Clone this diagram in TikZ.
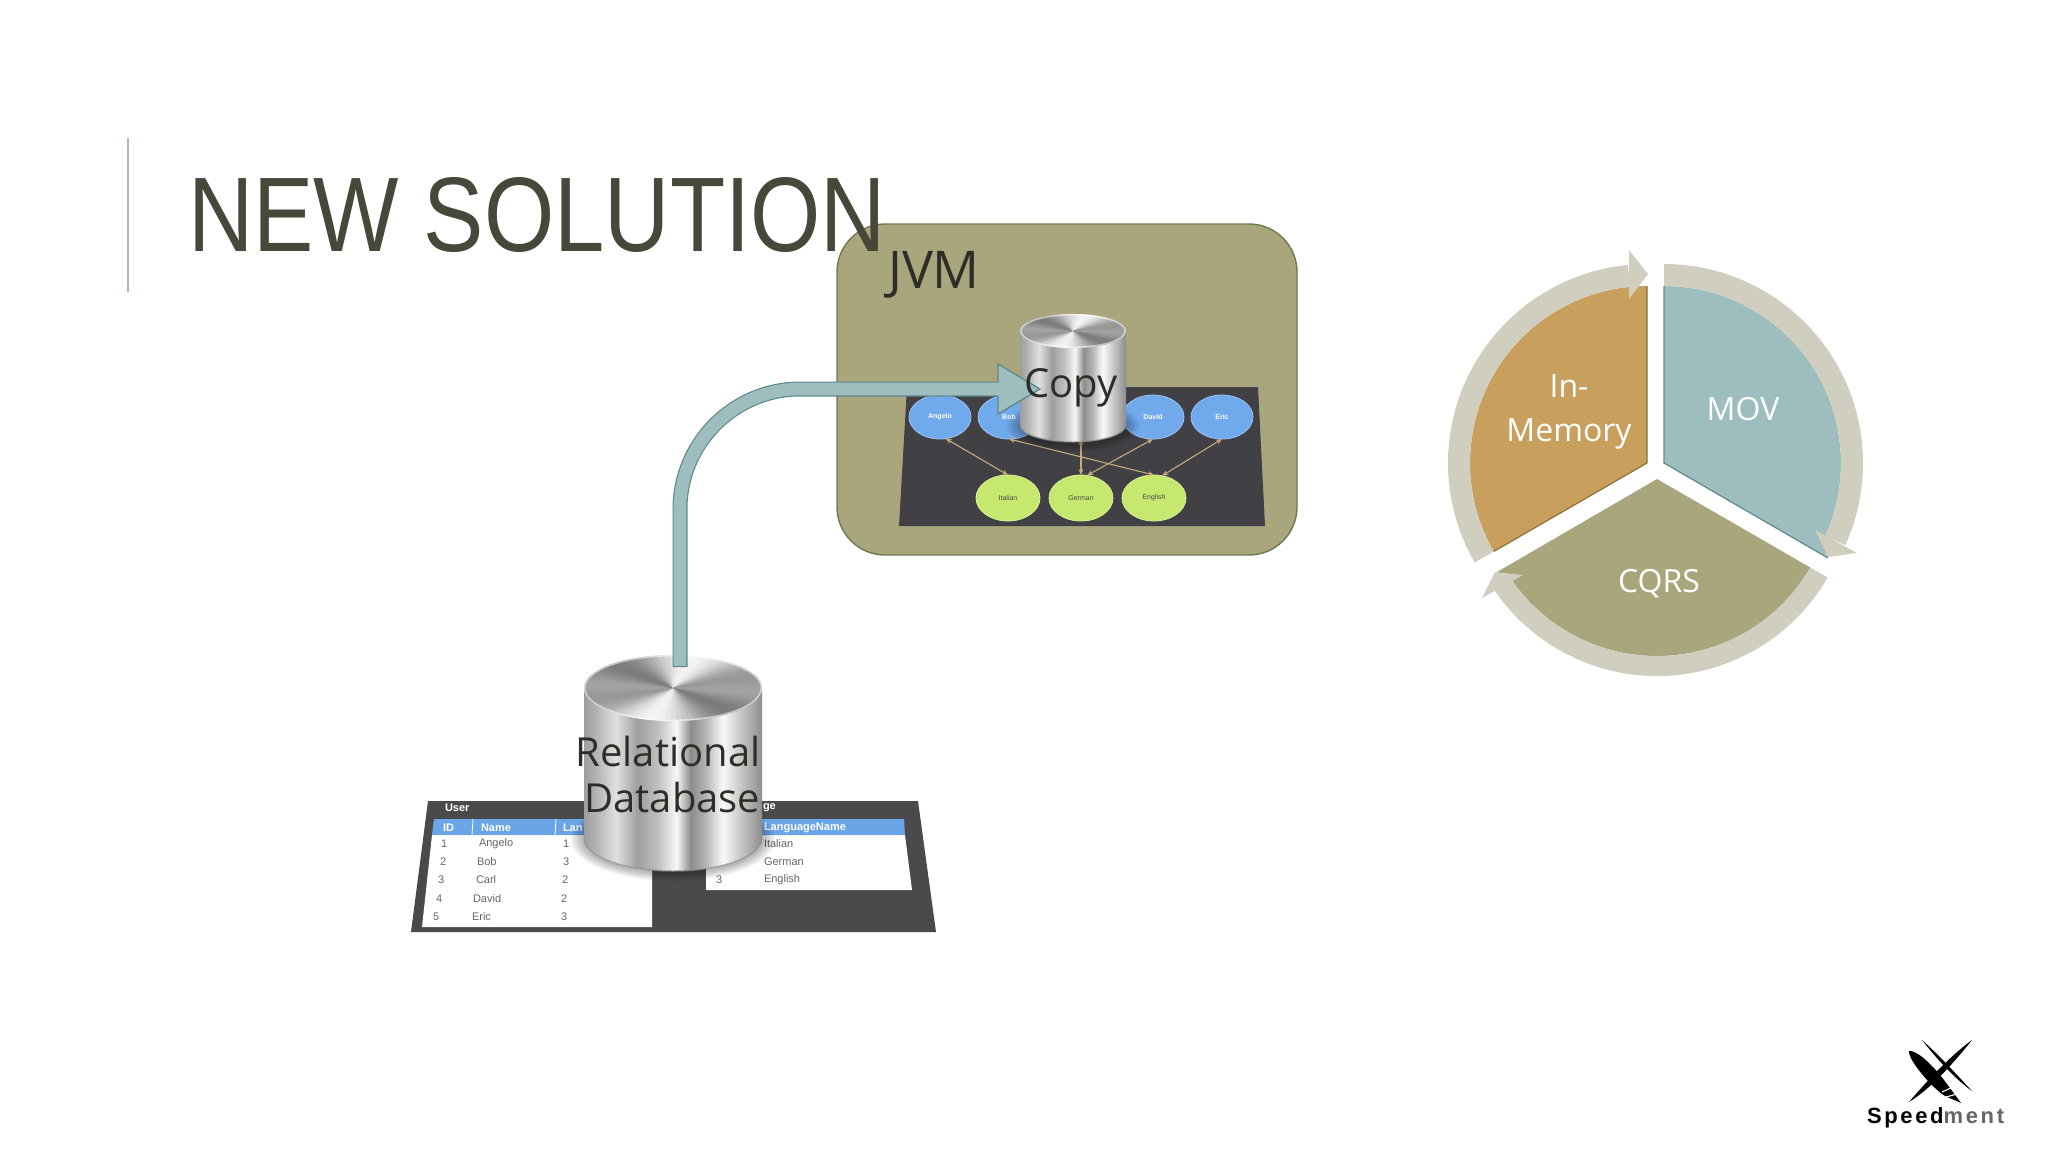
\documentclass[tikz,border=0pt]{standalone}
\usepackage{fontspec}
\usepackage{graphicx}
\usetikzlibrary{shapes.geometric,arrows.meta,calc}
\newfontfamily\labelf{Open Sans}
\newfontfamily\titlef{Liberation Sans}
\newfontfamily\logof[LetterSpace=12]{Liberation Sans}
\definecolor{ctitle}{HTML}{47473A}
\definecolor{cteal}{HTML}{9DBDBF}
\definecolor{ctealdk}{HTML}{5F8A8C}
\definecolor{cbox}{HTML}{A9A57C}
\definecolor{cboxdk}{HTML}{6F7A50}
\definecolor{corange}{HTML}{C89F5C}
\definecolor{corangedk}{HTML}{8C7235}
\definecolor{cring}{HTML}{D0CFBF}
\definecolor{cboard}{HTML}{4A4A4C}
\definecolor{cboard2}{HTML}{414145}
\definecolor{chead}{HTML}{6AA5E8}
\definecolor{cblue}{HTML}{70A9EC}
\definecolor{cgreen}{HTML}{C6E86E}
\definecolor{cedge}{HTML}{C8A97C}
\definecolor{ctext}{HTML}{2E2E28}
\pgfdeclarehorizontalshading{metal}{100bp}{rgb(0bp)=(.62,.62,.62);rgb(25bp)=(.62,.62,.62);rgb(29bp)=(.72,.72,.72);rgb(34bp)=(.88,.88,.88);rgb(40bp)=(.62,.62,.62);rgb(46bp)=(.76,.76,.76);rgb(51bp)=(.97,.97,.97);rgb(55bp)=(.55,.55,.55);rgb(59bp)=(.70,.70,.70);rgb(64bp)=(.98,.98,.98);rgb(69bp)=(.78,.78,.78);rgb(75bp)=(.55,.55,.55);rgb(100bp)=(.55,.55,.55)}
\newcommand{\metalcyl}[5]{% cx, top cy, rx, ry, bottom cy
  \foreach \s in {1,...,6}{
    \fill[black,opacity=.05] (#1,#5+1) ellipse [x radius={#3+\s*2.2}, y radius={#4+\s*1.5}];
  }
  \shade[shading=metal] (#1-#3,#2) -- (#1-#3,#5) arc[start angle=180,end angle=0,x radius=#3,y radius=#4] -- (#1+#3,#2) -- cycle;
  \draw[black!45,opacity=.6,line width=1.5] (#1-#3,#5) arc[start angle=180,end angle=0,x radius=#3,y radius=#4];
  \begin{scope}
    \clip (#1,#2) ellipse [x radius=#3,y radius=#4];
    \foreach \a in {0,4,...,356}{
      \pgfmathsetmacro\g{32+17*cos(2*(\a-20))+11*cos(4*(\a+35))}
      \fill[black!\g,draw=black!\g,line width=.4] (#1,#2) -- ({#1+1.2*#3*cos(\a)},{#2+1.2*#4*sin(\a)}) -- ({#1+1.2*#3*cos(\a+4.5)},{#2+1.2*#4*sin(\a+4.5)}) -- cycle;
    }
  \end{scope}
  \draw[white,opacity=.55,line width=1.5] (#1,#2) ellipse [x radius=#3-.7,y radius=#4-.7];
}
\tikzset{
  lab/.style={font=\labelf\fontsize{40}{46}\selectfont,text=ctext,inner sep=0,outer sep=0},
  pielab/.style={font=\labelf\fontsize{32}{44}\selectfont,text=white,inner sep=0,outer sep=0,align=center},
  tcell/.style={font=\titlef\fontsize{11}{13}\selectfont,text=black!60,inner sep=0,outer sep=0,anchor=west},
  thead/.style={font=\titlef\bfseries\fontsize{11}{13}\selectfont,text=white,inner sep=0,outer sep=0,anchor=west},
  person/.style={ellipse,fill=cblue,draw=cblue!70!white,line width=.8,minimum width=62,minimum height=44,inner sep=0,outer sep=0,font=\titlef\bfseries\fontsize{7}{8}\selectfont,text=white},
  lang/.style={ellipse,fill=cgreen,draw=cgreen!70!white,line width=.8,minimum width=64,minimum height=46,inner sep=0,outer sep=0,font=\titlef\fontsize{7}{8}\selectfont,text=black!70},
  rel/.style={draw=cedge,line width=1.1,{Stealth[length=6,width=5]}-{Stealth[length=6,width=5]}},
}
\begin{document}
\begin{tikzpicture}[x=1pt,y=-1pt]
\useasboundingbox (0,0) rectangle (2048,1152);
\fill[white] (0,0) rectangle (2048,1152);
% title rule
\coordinate (ruleA) at (128,138);
\coordinate (ruleB) at (128,292);
\draw[cteal,line width=2.6] (ruleA) -- (ruleB);

% JVM box
\node[draw=cboxdk,fill=cbox,line width=1.4,rounded corners=48,minimum width=460,minimum height=331,inner sep=0,outer sep=0] (jvm) at (1067,389.5) {};

% graph picture
\fill[cboard2] (907,387) -- (1258,387) -- (1265,526) -- (899,526) -- cycle;
\node[person] (angelo) at (940,417) {Angelo};
\node[person] (bob) at (1009,417) {Bob};
\node[person] (carl) at (1081,417) {};
\node[person] (david) at (1153,417) {David};
\node[person] (eric) at (1222,417) {Eric};
\node[lang] (italian) at (1008,498) {Italian};
\node[lang] (german) at (1081,498) {German};
\node[lang] (english) at (1154,498) {English};
\draw[rel] (angelo.-75) -- (italian.north);
\draw[rel] (bob.south) -- (english.north);
\draw[rel] (carl.south) -- (german.north);
\draw[rel] (david.south) -- (german.75);
\draw[rel] (eric.south) -- (english.70);
\metalcyl{1073}{331}{53}{17}{425}

% relational tables
\fill[cboard] (428,801) -- (918,801) -- (936,932) -- (411,932) -- cycle;
\fill[white] (432,835) -- (652,835) -- (652,927) -- (422,927) -- cycle;
\fill[white] (706,835) -- (905,835) -- (912,890) -- (706,890) -- cycle;
\fill[chead] (434,819) -- (640,819) -- (640,835) -- (432,835) -- cycle;
\fill[chead] (740,819) -- (904,819) -- (905,835) -- (740,835) -- cycle;
\draw[white,line width=.8] (473,819) -- (472,835) (556,819) -- (555,835);
\node[thead] (tUser) at (445,808) {User};
\node[thead] (tID) at (443,828) {ID};
\node[thead] (tName) at (481,828) {Name};
\node[thead] (tLan) at (563,828) {Lan};
\node[thead] (tGe) at (763,808) {ge};
\node[thead] (tLN) at (764,828) {LanguageName};
\node[tcell] (a1) at (441,844) {1};
\node[tcell] (a2) at (479,844) {Angelo};
\node[tcell] (a3) at (563,844) {1};
\node[tcell] (b1) at (440,862) {2};
\node[tcell] (b2) at (477,862) {Bob};
\node[tcell] (b3) at (563,862) {3};
\node[tcell] (c1) at (438,880) {3};
\node[tcell] (c2) at (476,880) {Carl};
\node[tcell] (c3) at (562,880) {2};
\node[tcell] (d1) at (436,899) {4};
\node[tcell] (d2) at (473,899) {David};
\node[tcell] (d3) at (561,899) {2};
\node[tcell] (e1) at (433,917) {5};
\node[tcell] (e2) at (472,917) {Eric};
\node[tcell] (e3) at (561,917) {3};
\node[tcell] (r1) at (764,844) {Italian};
\node[tcell] (r2) at (764,862) {German};
\node[tcell] (r3) at (764,880) {English};
\node[tcell] (r3id) at (716,880) {3};
\metalcyl{673}{688}{89}{33}{838}

% copy arrow
\coordinate (arrowStart) at (680,667);
\coordinate (bendA) at (680,509);
\coordinate (bendB) at (800,389);
\coordinate (headBase) at (998,389);
\draw[ctealdk,line width=15] (arrowStart) -- (bendA) .. controls (680,443) and (734,389) .. (bendB) -- (headBase);
\draw[fill=cteal,draw=ctealdk,line width=1.3] (headBase) -- (998,364) -- (1040,389) -- (998,414) -- cycle;
\draw[cteal,line width=12.6] ($(arrowStart)+(0,-1.2)$) -- (bendA) .. controls (680,443) and (734,389) .. (bendB) -- ($(headBase)+(1.5,0)$);

% labels
\node[lab,anchor=base] (lblJVM) at (934,288) {\fontsize{52}{54}\selectfont JVM};
\node[lab,anchor=base] (lblCopy) at (1071,397) {Copy};
\node[lab,anchor=center,align=right] (lblDB) at (668,774) {Relational\\Database};

% title
\node[inner sep=0,outer sep=0,anchor=base west,text=ctitle,font=\titlef\fontsize{106}{110}\selectfont] (title) at (188,251) {\scalebox{.853}[1]{NEW SOLUTION}};

% cycle chart: each segment has its own centre
\coordinate (pO) at (1647,463);
\coordinate (pB) at (1664,463);
\coordinate (pG) at (1657,479);
\fill[corange] (pO) -- ($(pO)+(150:177)$) arc[start angle=150,end angle=270,radius=177] -- cycle;
\draw[corangedk,line width=1.2] ($(pO)+(270:177)$) -- (pO) -- ($(pO)+(150:177)$);
\fill[cteal] (pB) -- ($(pB)+(-90:177)$) arc[start angle=-90,end angle=24,radius=177] -- (1828,558) -- cycle;
\draw[ctealdk,line width=1.2] ($(pB)+(-90:177)$) -- (pB) -- (1828,558);
\fill[cbox] (pG) -- ($(pG)+(30:177)$) arc[start angle=30,end angle=146,radius=177] -- (1497,572) -- cycle;
% ring segments
\fill[cring] ($(pB)+(-90:199)$) arc[start angle=-90,end angle=24.4,radius=199] -- ($(pB)+(24.4:177)$) arc[start angle=24.4,end angle=-90,radius=177] -- cycle;
\fill[cring] (1815,530) -- (1857,553) -- (1828,557) -- cycle;
\fill[cring] ($(pG)+(30:197)$) arc[start angle=30,end angle=145.4,radius=197] -- ($(pG)+(145.4:177)$) arc[start angle=145.4,end angle=30,radius=177] -- cycle;
\fill[cring] (1482,598) -- (1495,572) -- (1523,575) -- cycle;
\fill[cring] ($(pO)+(150:199)$) arc[start angle=150,end angle=264.5,radius=199] -- ($(pO)+(264.5:177)$) arc[start angle=264.5,end angle=150,radius=177] -- cycle;
\fill[cring] (1629,250) -- (1648,274) -- (1629,299) -- cycle;
\node[pielab] (lblMOV) at (1743,409) {MOV};
\node[pielab,anchor=base] (lblCQRS) at (1659,592) {CQRS};
\node[pielab] (lblMem) at (1569,412) {In-\\Memory};

% logo
\fill[black] (1922,1040) .. controls (1940,1056) and (1958,1076) .. (1972,1091) .. controls (1954,1078) and (1936,1058) .. (1922,1040) -- cycle;
\fill[black] (1972,1040) .. controls (1950,1056) and (1926,1082) .. (1909,1102) .. controls (1932,1088) and (1956,1060) .. (1972,1040) -- cycle;
\fill[black] (1909,1051) .. controls (1916,1050) and (1930,1062) .. (1944,1080) -- (1961,1103) -- (1945,1096) .. controls (1932,1088) and (1908,1060) .. (1909,1051) -- cycle;
\draw[white,line width=1.1] (1942,1092) -- (1953,1087) (1946,1097) -- (1957,1094);
\node[inner sep=0,outer sep=0,anchor=base west,font=\logof\bfseries\fontsize{22}{24}\selectfont] (logo) at (1867,1123) {Speed\textcolor{black!60}{ment}};
\end{tikzpicture}
\end{document}
